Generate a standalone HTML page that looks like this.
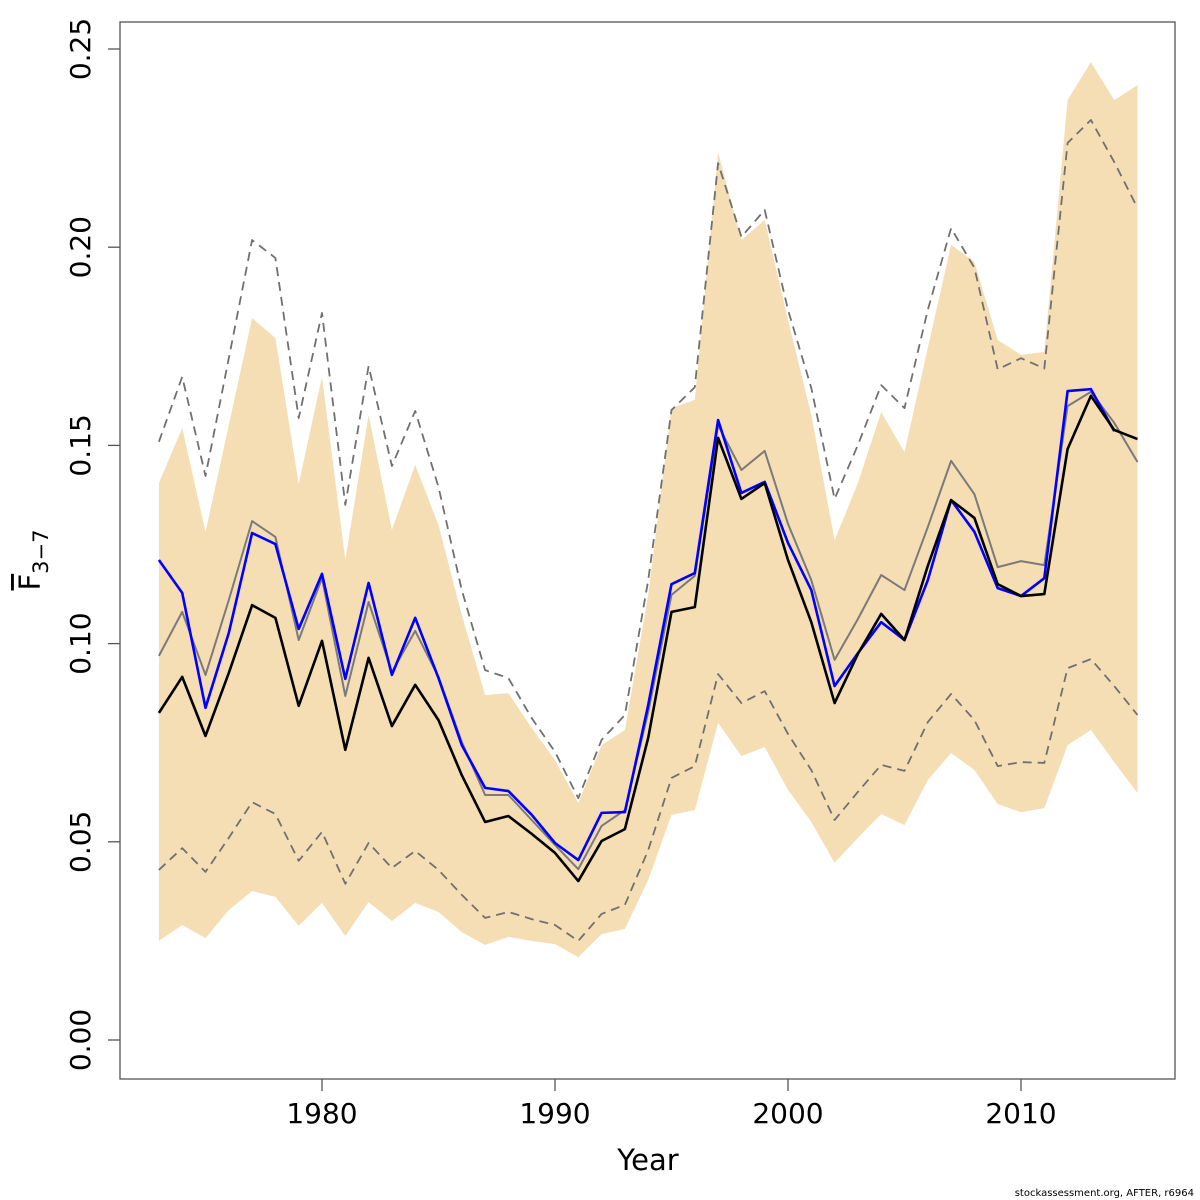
<!DOCTYPE html>
<html><head><meta charset="utf-8"><style>
html,body{margin:0;padding:0;background:#fff;}
svg{display:block;font-family:"DejaVu Sans","Liberation Sans",sans-serif;}
</style></head><body>
<svg id="chart" width="1200" height="1200" viewBox="0 0 1200 1200">
<rect x="120" y="22" width="1055" height="1057" fill="none" stroke="#555" stroke-width="1.3"/>
<g id="band"></g>
<g id="lines"></g>
<g id="yaxis"></g>
<g id="xaxis"></g>
<text x="648" y="1170" font-size="29" text-anchor="middle">Year</text>
<text transform="translate(40,560) rotate(-90)" font-size="29" text-anchor="middle"><tspan text-decoration="overline">F</tspan><tspan font-size="21" dy="8">3−7</tspan></text>
<text x="1194" y="1196" font-size="10" text-anchor="end">stockassessment.org, AFTER, r6964</text>
</svg>
<script>
const years = [];
for (let y = 1973; y <= 2015; y++) years.push(y);
const fbar = [0.0825,0.0916,0.0767,0.0926,0.1097,0.1065,0.0843,0.1007,0.0732,0.0964,0.0792,0.0896,0.0807,0.0668,0.0550,0.0565,0.0520,0.0472,0.0401,0.0502,0.0532,0.0762,0.1080,0.1092,0.1519,0.1365,0.1405,0.1211,0.1054,0.0850,0.0974,0.1075,0.1009,0.1196,0.1362,0.1317,0.1150,0.1120,0.1125,0.1491,0.1625,0.1539,0.1516];
const fbarBlue = [0.1211,0.1128,0.0838,0.1027,0.1279,0.1251,0.1037,0.1176,0.0911,0.1153,0.0921,0.1065,0.0913,0.0744,0.0636,0.0628,0.0568,0.0497,0.0454,0.0573,0.0575,0.0845,0.1150,0.1178,0.1564,0.1380,0.1408,0.1254,0.1135,0.0893,0.0976,0.1054,0.1009,0.1160,0.1362,0.1282,0.1140,0.1120,0.1165,0.1637,0.1642,0.1536];
const fbarGray = [0.0969,0.1080,0.0921,0.1110,0.1309,0.1269,0.1009,0.1165,0.0868,0.1105,0.0928,0.1032,0.0916,0.0752,0.0618,0.0618,0.0555,0.0492,0.0431,0.0540,0.0580,0.0827,0.1123,0.1171,0.1551,0.1438,0.1486,0.1302,0.1160,0.0959,0.1062,0.1173,0.1135,0.1294,0.1461,0.1377,0.1193,0.1208,0.1198,0.1599,0.1635,0.1557,0.1458];
const dashHi = [0.1509,0.1673,0.1423,0.1720,0.2018,0.1973,0.1569,0.1834,0.1350,0.1700,0.1448,0.1587,0.1395,0.1135,0.0933,0.0913,0.0812,0.0727,0.0610,0.0757,0.0820,0.1160,0.1589,0.1647,0.2212,0.2026,0.2094,0.1842,0.1645,0.1365,0.1501,0.1652,0.1594,0.1842,0.2048,0.1948,0.1692,0.1720,0.1694,0.2263,0.2321,0.2215,0.2099];
const dashLo = [0.0429,0.0484,0.0424,0.0510,0.0600,0.0570,0.0452,0.0525,0.0394,0.0497,0.0434,0.0477,0.0429,0.0366,0.0308,0.0323,0.0305,0.0290,0.0250,0.0318,0.0341,0.0479,0.0661,0.0691,0.0923,0.0850,0.0880,0.0772,0.0681,0.0555,0.0626,0.0694,0.0679,0.0802,0.0873,0.0807,0.0691,0.0701,0.0699,0.0938,0.0961,0.0893,0.0820];
const bandHi = [0.1405,0.1544,0.1282,0.1551,0.1821,0.1771,0.1403,0.1673,0.1211,0.1577,0.1287,0.1451,0.1299,0.1072,0.0870,0.0875,0.0787,0.0706,0.0598,0.0744,0.0782,0.1123,0.1594,0.1615,0.2240,0.2018,0.2069,0.1816,0.1577,0.1261,0.1405,0.1584,0.1483,0.1746,0.2006,0.1963,0.1766,0.1728,0.1736,0.2371,0.2467,0.2371,0.2409];
const bandLo = [0.0250,0.0290,0.0257,0.0328,0.0376,0.0361,0.0288,0.0346,0.0262,0.0348,0.0300,0.0346,0.0323,0.0272,0.0240,0.0260,0.0250,0.0242,0.0209,0.0267,0.0280,0.0404,0.0568,0.0580,0.0800,0.0716,0.0739,0.0631,0.0550,0.0447,0.0510,0.0570,0.0542,0.0656,0.0724,0.0681,0.0595,0.0575,0.0585,0.0744,0.0782,0.0701,0.0623];
const yTicks = [0, 0.05, 0.10, 0.15, 0.20, 0.25];
const yTickLabels = ["0.00","0.05","0.10","0.15","0.20","0.25"];
const xTicks = [1980, 1990, 2000, 2010];

const NS = "http://www.w3.org/2000/svg";
function X(yr){ return 322 + (yr - 1980) * 23.3; }
function Y(v){ return 1040 - v * 3964; }
function mk(tag, attrs, parent){ const e = document.createElementNS(NS, tag); for (const k in attrs) e.setAttribute(k, attrs[k]); parent.appendChild(e); return e; }

const band = document.getElementById('band');
let pts = years.map((y,i)=>X(y)+','+Y(bandHi[i]));
for (let i = years.length-1; i >= 0; i--) pts.push(X(years[i])+','+Y(bandLo[i]));
const poly = mk('polygon', {points: pts.join(' '), fill:'#f5deb3'}, band);



const lines = document.getElementById('lines');
function line(vals, stroke, w, dash, name){
  const p = vals.map((v,i)=>X(years[i])+','+Y(v)).join(' ');
  const el = mk('polyline', {points:p, fill:'none', stroke:stroke, 'stroke-width':w, 'stroke-linejoin':'round'}, lines);
  if (dash) el.setAttribute('stroke-dasharray', dash);
  
  
}
line(dashHi, '#707070', 1.8, '9,6', 'upper-dashed-line');
line(dashLo, '#707070', 1.8, '9,6', 'lower-dashed-line');
line(fbarGray, '#7a7a7a', 2, null, 'gray-fbar-line');
line(fbarBlue, '#0000ff', 2.6, null, 'blue-fbar-line');
line(fbar, '#000000', 2.6, null, 'fbar-line');

const ya = document.getElementById('yaxis');
yTicks.forEach((t,i)=>{
  const tk = mk('line', {x1:108, x2:120, y1:Y(t), y2:Y(t), stroke:'#555', 'stroke-width':1.3}, ya);
  
  
  const tx = mk('text', {transform:'translate(90,'+Y(t)+') rotate(-90)', 'font-size':28, 'text-anchor':'middle'}, ya);
  tx.textContent = yTickLabels[i];
  
  
});
const xa = document.getElementById('xaxis');
xTicks.forEach(t=>{
  const tk = mk('line', {x1:X(t), x2:X(t), y1:1079, y2:1091, stroke:'#555', 'stroke-width':1.3}, xa);
  
  
  const tx = mk('text', {x:X(t), y:1123, 'font-size':28, 'text-anchor':'middle'}, xa);
  tx.textContent = t;
  
  
});
</script>
</body></html>
